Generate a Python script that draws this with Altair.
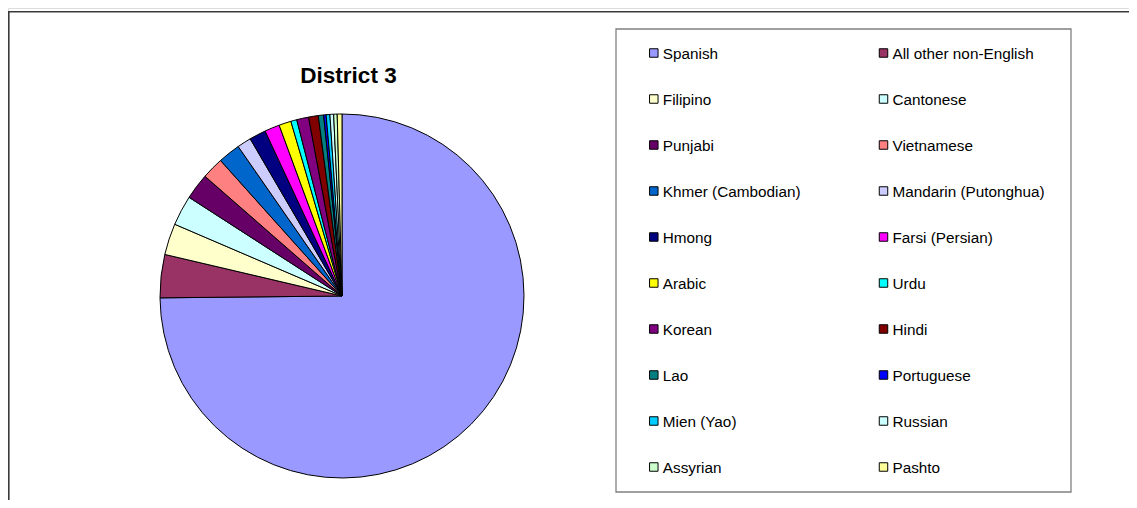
import altair as alt
import pandas as pd

# ---- data (slice sizes in approx. percent) ----
languages = [
    "Spanish", "All other non-English", "Filipino", "Cantonese", "Punjabi",
    "Vietnamese", "Khmer (Cambodian)", "Mandarin (Putonghua)", "Hmong",
    "Farsi (Persian)", "Arabic", "Urdu", "Korean", "Hindi", "Lao",
    "Portuguese", "Mien (Yao)", "Russian", "Assyrian", "Pashto",
]
shares = [
    74.83, 3.83, 2.78, 2.67, 2.31,
    1.94, 1.97, 1.25, 1.47,
    1.33, 1.08, 0.53, 1.06, 0.86, 0.47,
    0.22, 0.33, 0.33, 0.31, 0.42,
]
colors = [
    "#9999FF", "#993366", "#FFFFCC", "#CCFFFF", "#660066",
    "#FF8080", "#0066CC", "#CCCCFF", "#000080",
    "#FF00FF", "#FFFF00", "#00FFFF", "#800080", "#800000", "#008080",
    "#0000FF", "#00CCFF", "#CCFFFF", "#CCFFCC", "#FFFF99",
]
title_text = ["District 3"]

df = pd.DataFrame({
    "lang": languages,
    "share": shares,
    "idx": list(range(len(languages))),
    "row": [i // 2 for i in range(len(languages))],
    "col": [i % 2 for i in range(len(languages))],
})

FONT = "Liberation Sans"
color_scale = alt.Scale(domain=languages, range=colors)

# outer frame (left and top edges visible in the window)
frame_top = alt.Chart(df.head(1)).mark_rule(color="#3a3a3a", strokeWidth=1.6).encode(
    x=alt.value(0), x2=alt.value(1140), y=alt.value(3.8)
)
frame_left = alt.Chart(df.head(1)).mark_rule(color="#3a3a3a", strokeWidth=1.6).encode(
    x=alt.value(0.8), y=alt.value(3.8), y2=alt.value(520)
)

# legend box
legend_box = alt.Chart(df.head(1)).mark_rect(
    fill="white", stroke="#808080", strokeWidth=1.3
).encode(
    x=alt.value(608), x2=alt.value(1063), y=alt.value(21), y2=alt.value(484)
)

# pie
pie = alt.Chart(df).mark_arc(
    radius=182, stroke="black", strokeWidth=1, strokeJoin="miter"
).encode(
    theta=alt.Theta("share:Q", stack=True),
    order=alt.Order("idx:Q"),
    color=alt.Color("lang:N", scale=color_scale, legend=None),
    x=alt.value(334),
    y=alt.value(288),
)

# title
title = alt.Chart(pd.DataFrame({"t": title_text})).mark_text(
    font=FONT, fontSize=22.5, fontWeight="bold", color="black",
    align="center", baseline="alphabetic"
).encode(
    text="t:N", x=alt.value(340.5), y=alt.value(75.3)
)

xs = alt.X("col:Q", scale=alt.Scale(domain=[0, 1], range=[645.8, 875.5]), axis=None)
ys = alt.Y("row:Q", scale=alt.Scale(domain=[0, 9], range=[45, 459]), axis=None)

swatches = alt.Chart(df).mark_square(
    size=72, stroke="black", strokeWidth=1, opacity=1
).encode(
    x=xs, y=ys,
    color=alt.Color("lang:N", scale=color_scale, legend=None),
)

labels = alt.Chart(df).mark_text(
    font=FONT, fontSize=15.3, color="black", align="left", baseline="middle", dx=9, dy=0.5
).encode(
    x=xs, y=ys, text="lang:N"
)

chart = alt.layer(
    frame_top, frame_left, legend_box, pie, title, swatches, labels
).properties(
    width=1121, height=492,
    autosize=alt.AutoSizeParams(type="none"),
    padding={"left": 0, "top": 0, "right": 0, "bottom": 0},
).configure_view(stroke=None).configure(background="white")

chart.save("out.html", embed_options={"renderer": "svg", "actions": False})
